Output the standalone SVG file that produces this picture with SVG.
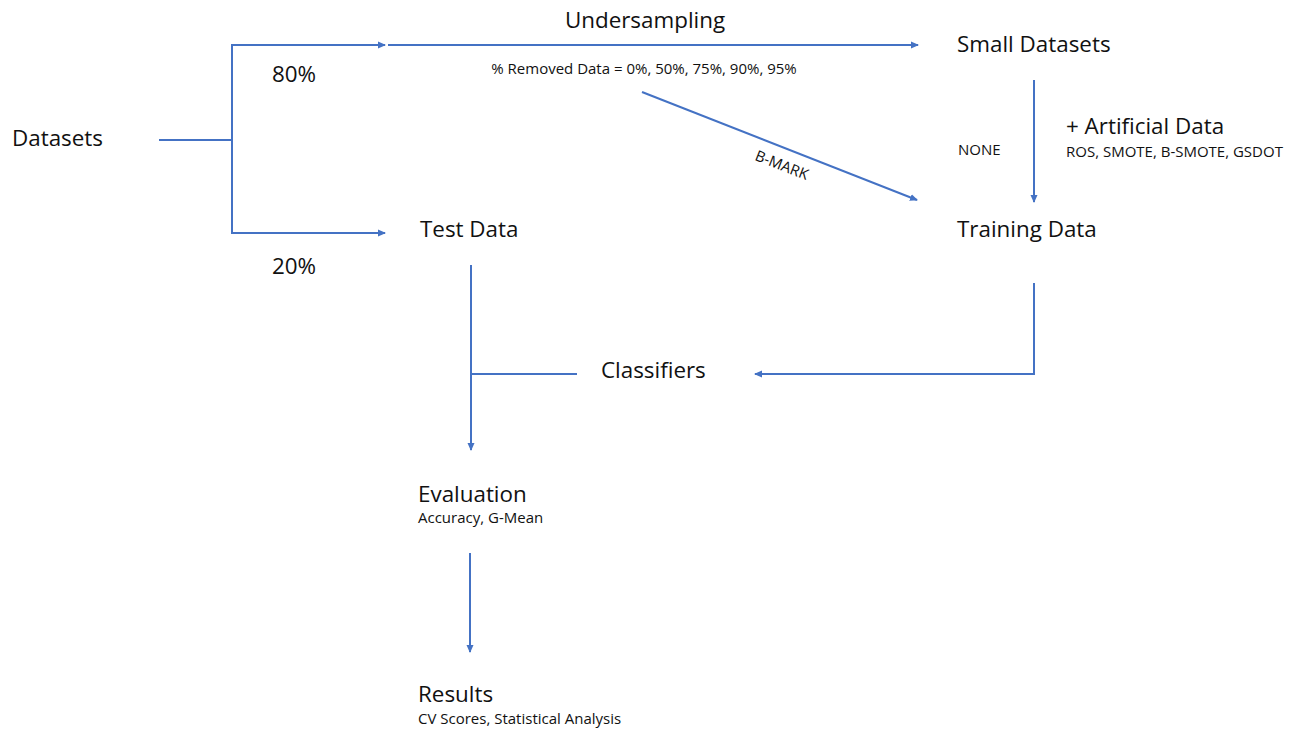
<svg xmlns="http://www.w3.org/2000/svg" width="1301" height="730" viewBox="0 0 1301 730">
<style>
.c{fill:none;stroke:#4472C4;stroke-width:2}
.t{font-family:"Open Sans","Liberation Sans",sans-serif;fill:#111}
.L{font-size:22.4px}
.S{font-size:15px;font-weight:500}
</style>
<defs>
<marker id="ah" markerWidth="8" markerHeight="8" refX="7" refY="4" orient="auto" markerUnits="userSpaceOnUse">
<path d="M0,0.5 L8,4 L0,7.5 Z" fill="#4472C4"/>
</marker>
</defs>
<rect width="1301" height="730" fill="#fff"/>
<g id="connectors">
<polyline class="c" points="159,140 232,140"/>
<polyline class="c" points="385,45 232,45 232,233 385,233" marker-end="url(#ah)"/>
<line class="c" x1="232" y1="45" x2="385" y2="45" marker-end="url(#ah)"/>
<line class="c" x1="388" y1="45" x2="918" y2="45" marker-end="url(#ah)"/>
<line class="c" x1="642" y1="92" x2="917" y2="200" marker-end="url(#ah)"/>
<line class="c" x1="1034" y1="80" x2="1034" y2="202" marker-end="url(#ah)"/>
<line class="c" x1="471" y1="265" x2="471" y2="450" marker-end="url(#ah)"/>
<line class="c" x1="471" y1="374" x2="577" y2="374"/>
<polyline class="c" points="1034,283 1034,374 755,374" marker-end="url(#ah)"/>
<line class="c" x1="470" y1="553" x2="470" y2="652" marker-end="url(#ah)"/>
</g>
<g id="datasets"><text class="t L" x="12" y="146">Datasets</text></g>
<g id="label-80"><text class="t L" x="272" y="82">80%</text></g>
<g id="label-20"><text class="t L" x="272" y="274">20%</text></g>
<g id="undersampling">
<text class="t L" x="645" y="28" text-anchor="middle">Undersampling</text>
<text class="t S" x="644" y="74" text-anchor="middle">% Removed Data = 0%, 50%, 75%, 90%, 95%</text>
</g>
<g id="bmark"><text class="t S" x="780" y="170" text-anchor="middle" transform="rotate(21.4 780 170)">B-MARK</text></g>
<g id="small-datasets"><text class="t L" x="957" y="52">Small Datasets</text></g>
<g id="none"><text class="t S" x="958" y="155">NONE</text></g>
<g id="artificial">
<text class="t L" x="1066" y="134">+ Artificial Data</text>
<text class="t S" x="1066" y="157">ROS, SMOTE, B-SMOTE, GSDOT</text>
</g>
<g id="training-data"><text class="t L" x="957" y="237">Training Data</text></g>
<g id="test-data"><text class="t L" x="420" y="237">Test Data</text></g>
<g id="classifiers"><text class="t L" x="601" y="378">Classifiers</text></g>
<g id="evaluation">
<text class="t L" x="418" y="502">Evaluation</text>
<text class="t S" x="418" y="523">Accuracy, G-Mean</text>
</g>
<g id="results">
<text class="t L" x="418" y="702">Results</text>
<text class="t S" x="418" y="724">CV Scores, Statistical Analysis</text>
</g>
</svg>
